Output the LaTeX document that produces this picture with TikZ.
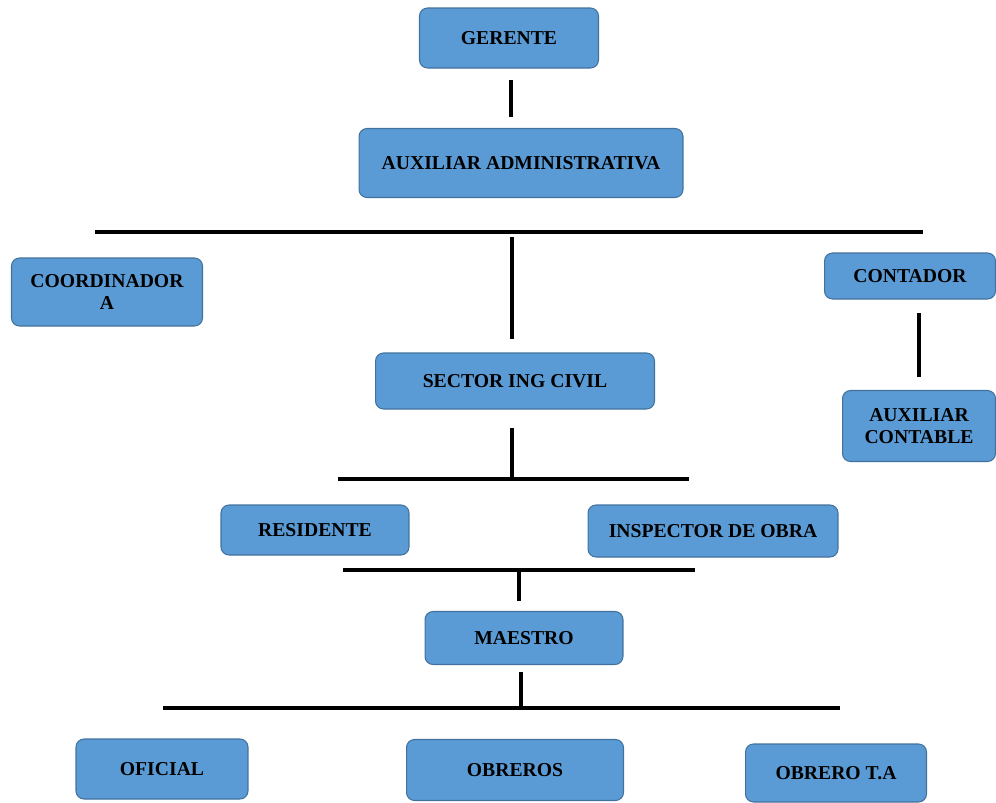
\documentclass[tikz,border=0pt]{standalone}
\usepackage{fontspec}
\setmainfont{Liberation Serif}
\usepackage{tikz}
\usetikzlibrary{positioning}
\definecolor{BoxBlue}{RGB}{91,155,213}
\definecolor{EdgeBlue}{RGB}{65,113,156}

\begin{document}
\begin{tikzpicture}[
 x=0.02cm, y=-0.02cm,
 box/.style = {draw=EdgeBlue, fill=BoxBlue, rounded corners=0.16cm, line width=0.6pt,
               align=center, inner sep=0pt, font=\bfseries\fontsize{11.2}{12.6}\selectfont},
 link/.style = {line width=1.9pt, black},
                        ]
    \useasboundingbox (0,0) rectangle (996,802);

    \node [box, minimum width=3.58cm, minimum height=1.2cm] (gerente) at (509,38) {GERENTE};
    \node [box, minimum width=6.48cm, minimum height=1.38cm] (auxadm) at (521,163) {AUXILIAR ADMINISTRATIVA};
    \node [box, minimum width=3.82cm, minimum height=1.36cm] (coord) at (107,292) {COORDINADOR\\A};
    \node [box, minimum width=3.42cm, minimum height=0.92cm] (contador) at (910,276) {CONTADOR};
    \node [box, minimum width=3.06cm, minimum height=1.42cm] (auxcont) at (919,426) {AUXILIAR\\CONTABLE};
    \node [box, minimum width=5.58cm, minimum height=1.12cm] (sector) at (515,381) {SECTOR ING CIVIL};
    \node [box, minimum width=3.76cm, minimum height=1.0cm] (residente) at (315,530) {RESIDENTE};
    \node [box, minimum width=5.0cm, minimum height=1.04cm] (inspector) at (713,531) {INSPECTOR DE OBRA};
    \node [box, minimum width=3.96cm, minimum height=1.06cm] (maestro) at (524,638) {MAESTRO};
    \node [box, minimum width=3.44cm, minimum height=1.2cm] (oficial) at (162,769) {OFICIAL};
    \node [box, minimum width=4.34cm, minimum height=1.22cm] (obreros) at (515,770) {OBREROS};
    \node [box, minimum width=3.62cm, minimum height=1.16cm] (obreroTA) at (836,773) {OBRERO T.A};

    % loose line ends
    \coordinate (g1) at (511,80);   \coordinate (g2) at (511,117);
    \coordinate (h1a) at (95,232);  \coordinate (h1b) at (923,232);
    \coordinate (v1a) at (512,237); \coordinate (v1b) at (512,339);
    \coordinate (c1) at (919,313);  \coordinate (c2) at (919,377);
    \coordinate (s1) at (512,428);  \coordinate (s2) at (512,478);
    \coordinate (h2a) at (338,479); \coordinate (h2b) at (689,479);
    \coordinate (h3a) at (343,570); \coordinate (h3b) at (695,570);
    \coordinate (m1) at (519,572);  \coordinate (m2) at (519,601);
    \coordinate (m3) at (521,672);  \coordinate (m4) at (521,706);
    \coordinate (h4a) at (163,708); \coordinate (h4b) at (840,708);

    \draw [link] (g1) -- (g2);
    \draw [link] (h1a) -- (h1b);
    \draw [link] (v1a) -- (v1b);
    \draw [link] (c1) -- (c2);
    \draw [link] (s1) -- (s2);
    \draw [link] (h2a) -- (h2b);
    \draw [link] (h3a) -- (h3b);
    \draw [link] (m1) -- (m2);
    \draw [link] (m3) -- (m4);
    \draw [link] (h4a) -- (h4b);

\end{tikzpicture}
\end{document}
